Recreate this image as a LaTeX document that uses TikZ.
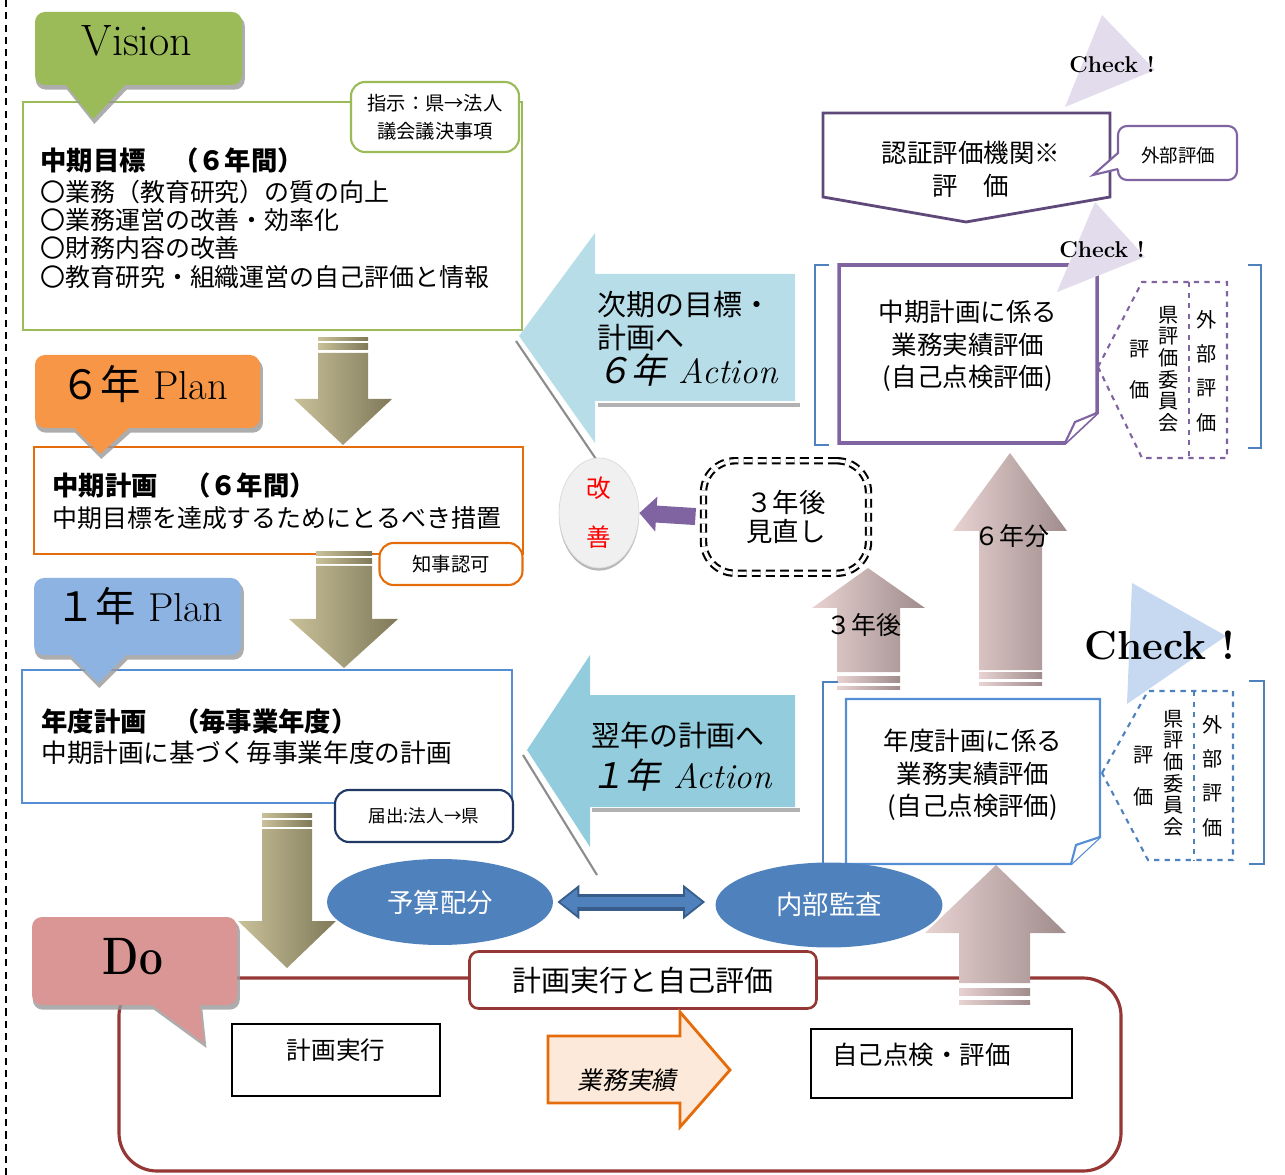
\documentclass[tikz,border=0pt]{standalone}
\usepackage{fontspec}
\newfontfamily\cjk{Noto Sans CJK JP}
\newfontfamily\cjksl[FakeSlant=0.2]{Noto Sans CJK JP}
\usetikzlibrary{arrows.meta, shadows, shapes.geometric}

\definecolor{visiongreen}{HTML}{9BBB59}
\definecolor{planorange}{HTML}{F79646}
\definecolor{lineorange}{HTML}{E46C0A}
\definecolor{planblue}{HTML}{8DB3E2}
\definecolor{lineblue}{HTML}{558ED5}
\definecolor{notenavy}{HTML}{1F3864}
\definecolor{actsky}{HTML}{B7DEE8}
\definecolor{actteal}{HTML}{93CDDD}
\definecolor{ovalblue}{HTML}{4F81BD}
\definecolor{ovaldark}{HTML}{385D8A}
\definecolor{dopink}{HTML}{D99694}
\definecolor{doframe}{HTML}{953735}
\definecolor{evalpurple}{HTML}{8064A2}
\definecolor{evaldark}{HTML}{5F497A}
\definecolor{checklav}{HTML}{E2DCEC}
\definecolor{checksky}{HTML}{C6D9F1}
\definecolor{olivel}{HTML}{C9C199}
\definecolor{olived}{HTML}{7F7959}
\definecolor{rosel}{HTML}{E8D2D2}
\definecolor{rosed}{HTML}{A08C8C}
\definecolor{peach}{HTML}{FDE9D9}

\tikzset{
  jp/.style={font=\cjk\fontsize{14.2}{18}\selectfont},
  jpbold/.style={font=\cjk\bfseries\fontsize{15}{18}\selectfont},
  jpbig/.style={font=\cjk\fontsize{16.5}{20}\selectfont},
  jpsmall/.style={font=\cjk\fontsize{11}{16}\selectfont},
  jpvert/.style={font=\cjk\fontsize{11.5}{12.3}\selectfont, align=center},
  jpspread/.style={font=\cjk\fontsize{11.5}{19.5}\selectfont, align=center},
  callshadow/.style={drop shadow={shadow xshift=1pt, shadow yshift=-2.5pt, shadow scale=1.01, fill=black!40, opacity=0.8}},
  notebox/.style={draw, rounded corners=8pt, line width=1.2pt, fill=white, jpsmall, align=center},
  olivearrow/.style={left color=olivel, right color=olived},
  rosearrow/.style={left color=rosel, right color=rosed},
  evalbox/.style={jp, align=center, font=\cjk\fontsize{14.5}{18.5}\selectfont}
}

\begin{document}
\begin{tikzpicture}[x=0.02cm, y=-0.02cm, every node/.style={inner sep=0pt}]
\useasboundingbox (0,0) rectangle (1285,1175);

\draw[dash pattern=on 4pt off 3pt, line width=0.8pt] (6,0) -- (6,1175);

% Vision / 6 year / 1 year boxes
\draw[visiongreen, line width=1.5pt, fill=white] (23,102) rectangle (522,330);
\node[jpbold, anchor=west] (goaltitle) at (40,160) {中期目標　（６年間）};
\node[jp, anchor=west] (goalA) at (40,192) {〇業務（教育研究）の質の向上};
\node[jp, anchor=west] (goalB) at (40,220) {〇業務運営の改善・効率化};
\node[jp, anchor=west] (goalC) at (40,248) {〇財務内容の改善};
\node[jp, anchor=west] (goalD) at (40,277) {〇教育研究・組織運営の自己評価と情報};
\node[notebox, draw=visiongreen, minimum width=3.36cm, minimum height=1.4cm] (instruct) at (435,117) {指示：県→法人\\議会議決事項};

\draw[lineorange, line width=1.3pt, fill=white] (34,447) rectangle (523,554);
\node[jpbold, anchor=west] (plantitle) at (52,485) {中期計画　（６年間）};
\node[jp, anchor=west] (plantext) at (52,518) {中期目標を達成するためにとるべき措置};
\node[notebox, draw=lineorange, minimum width=2.86cm, minimum height=0.84cm] (approve) at (451,564) {知事認可};

\draw[lineblue, line width=1.3pt, fill=white] (22,670) rectangle (512,803);
\node[jpbold, anchor=west] (yeartitle) at (41,721) {年度計画　（毎事業年度）};
\node[jp, anchor=west, font=\cjk\fontsize{14.6}{18}\selectfont] (yeartext) at (41,753) {中期計画に基づく毎事業年度の計画};
\node[notebox, draw=notenavy, minimum width=3.56cm, minimum height=1.04cm, font=\cjk\fontsize{10}{12}\selectfont] (notify) at (424,816) {届出:法人→県};

% callouts
\path[fill=visiongreen, callshadow] [rounded corners=0.2cm] (140,12) -- (242,12) -- (242,85) [sharp corners] -- (125,85) -- (93,119) -- (66,85) [rounded corners=0.2cm] -- (35,85) -- (35,12) -- cycle;
\node[font=\fontsize{25}{29}\selectfont] (vision) at (137,41) {Vision};

\path[fill=planorange, callshadow] [rounded corners=0.2cm] (150,355) -- (260,355) -- (260,428) [sharp corners] -- (129,428) -- (100,454) -- (74,428) [rounded corners=0.2cm] -- (35,428) -- (35,355) -- cycle;
\node[font=\fontsize{23}{27}\selectfont] (plansix) at (144,384) {{\cjk ６年} Plan};

\path[fill=planblue, callshadow] [rounded corners=0.2cm] (140,578) -- (241,578) -- (241,655) [sharp corners] -- (126,655) -- (98,683) -- (70,655) [rounded corners=0.2cm] -- (34,655) -- (34,578) -- cycle;
\node[font=\fontsize{23}{27}\selectfont] (planone) at (139,606) {{\cjk １年} Plan};

% olive down arrows
\foreach \a/\b in {338/341, 344/350} \shade[olivearrow] (318,\a) rectangle (368,\b);
\shade[olivearrow] (318,353) -- (368,353) -- (368,399) -- (392,399) -- (343,445) -- (294,399) -- (318,399) -- cycle;
\foreach \a/\b in {552/556, 559/564} \shade[olivearrow] (316,\a) rectangle (372,\b);
\shade[olivearrow] (316,566) -- (372,566) -- (372,619) -- (398,619) -- (344,668) -- (289,619) -- (316,619) -- cycle;
\foreach \a/\b in {813/817, 820/826} \shade[olivearrow] (262,\a) rectangle (312,\b);
\shade[olivearrow] (262,829) -- (312,829) -- (312,921) -- (336,921) -- (287,968) -- (238,921) -- (262,921) -- cycle;

% action arrows
\draw[black!45, line width=1.2pt] (516,341) -- (598,462);
\draw[black!30, line width=2.5pt] (598,405) -- (800,405);
\fill[actsky] (519,336) -- (595,233) -- (595,274) -- (795,274) -- (795,401) -- (595,401) -- (595,443) -- cycle;
\node[jpbig, anchor=west] (nextgoal) at (597,305) {次期の目標・};
\node[jpbig, anchor=west] (nextplan) at (597,338) {計画へ};
\node[anchor=west, font=\fontsize{20}{24}\selectfont\itshape] (sixact) at (596,370) {{\cjksl ６年} Action};

\draw[black!45, line width=1.2pt] (523,755) -- (597,875);
\draw[black!30, line width=2.5pt] (592,810) -- (800,810);
\fill[actteal] (527,750) -- (590,655) -- (590,695) -- (795,695) -- (795,807) -- (590,807) -- (590,847) -- cycle;
\node[jpbig] (nextyear) at (678,735) {翌年の計画へ};
\node[font=\fontsize{20}{24}\selectfont\itshape] (oneact) at (681,775) {{\cjksl １年} Action};

% review
\node[ellipse, draw=black!15, fill=black!6, minimum width=1.6cm, minimum height=2.2cm, drop shadow={shadow xshift=0pt, shadow yshift=-1.5pt, fill=black!40, opacity=0.7}, align=center, text=red, font=\cjk\fontsize{14}{28}\selectfont] (kaizen) at (599,513) {改\\善};
\node[draw, double, double distance=1.8pt, dash pattern=on 5pt off 3pt, line width=1.2pt, rounded corners=18pt, minimum width=3.3cm, minimum height=2.25cm, align=center, font=\cjk\fontsize{15}{16.5}\selectfont] (review) at (786,517) {３年後\\見直し};
\draw[evalpurple, line width=0.34cm, -{Triangle[length=0.34cm, width=0.68cm]}, shorten <=4pt] (review.west) -- (kaizen.east);

% certification
\draw[evaldark, line width=1.6pt, fill=white] (823,113) -- (1110,113) -- (1110,197) -- (966,222) -- (823,197) -- cycle;
\node[font=\cjk\fontsize{14.5}{18}\selectfont] (certbody) at (971,153) {認証評価機関※};
\node[font=\cjk\fontsize{14.5}{18}\selectfont] (certeval) at (971,186) {評　価};
\draw[evalpurple, line width=1.2pt, fill=white, rounded corners=0.18cm] (1118,126) rectangle (1237,180);
\fill[white] (1120,153) -- (1093,175) -- (1120,169) -- cycle;
\draw[evalpurple, line width=1.2pt] (1118,153) -- (1093,175) -- (1118,169);
\node[font=\cjk\fontsize{10.5}{12}\selectfont] (external) at (1178,155) {外部評価};
\fill[checklav] (1102,15) -- (1155,70) -- (1065,107) -- cycle;
\node[font=\bfseries\fontsize{13}{15}\selectfont] (checkup) at (1112,65) {Check !};

% mid-term evaluation
\draw[ovalblue, line width=0.8pt] (829,265) -- (815,265) -- (815,445) -- (829,445);
\draw[ovalblue, line width=0.8pt] (1248,265) -- (1261,265) -- (1261,448) -- (1248,448);
\draw[evalpurple, line width=2pt, fill=white] (839,265) -- (1097,265) -- (1097,413) -- (1065,443) -- (839,443) -- cycle;
\draw[evalpurple, line width=1.2pt, fill=white] (1097,413) -- (1075,422) -- (1065,443);
\node[evalbox] (midcheck) at (968,346) {中期計画に係る\\業務実績評価\\(自己点検評価)};
\fill[checklav] (1095,202) -- (1145,257) -- (1057,292) -- cycle;
\node[font=\bfseries\fontsize{13}{15}\selectfont] (checkmid) at (1102,250) {Check !};
\draw[evalpurple, dashed, line width=1.2pt] (1098,367) -- (1142,282) -- (1227,282) -- (1227,458) -- (1142,458) -- cycle;
\draw[evalpurple, dashed, line width=1.2pt] (1189,282) -- (1189,458);
\node[font=\cjk\fontsize{11.5}{14}\selectfont] (midevalA) at (1140,349) {評};
\node[font=\cjk\fontsize{11.5}{14}\selectfont] (midevalB) at (1140,390) {価};
\node[jpvert] (midcommittee) at (1169,369) {県\\評\\価\\委\\員\\会};
\node[jpspread] (midoutside) at (1207,371) {外\\部\\評\\価};

% up arrows
\foreach \a/\b in {676/682, 686/689} \shade[rosearrow] (837,\a) rectangle (900,\b);
\shade[rosearrow] (837,672) -- (837,608) -- (812,608) -- (868,568) -- (925,608) -- (900,608) -- (900,672) -- cycle;
\node[jp] (threeup) at (864,625) {３年後};
\foreach \a/\b in {672/678, 682/685} \shade[rosearrow] (979,\a) rectangle (1042,\b);
\shade[rosearrow] (979,670) -- (979,531) -- (953,531) -- (1010,453) -- (1067,531) -- (1042,531) -- (1042,670) -- cycle;
\node[jp] (sixup) at (1012,536) {６年分};

% yearly evaluation
\draw[ovalblue, line width=0.8pt] (838,682) -- (823,682) -- (823,868) -- (838,868);
\draw[ovalblue, line width=0.8pt] (1249,681) -- (1264,681) -- (1264,864) -- (1249,864);
\draw[lineblue, line width=1.4pt, fill=white] (846,699) -- (1100,699) -- (1100,837) -- (1071,864) -- (846,864) -- cycle;
\draw[lineblue, line width=1.2pt, fill=white] (1100,837) -- (1076,845) -- (1071,864);
\node[evalbox] (yearcheck) at (973,775) {年度計画に係る\\業務実績評価\\(自己点検評価)};
\fill[checksky] (1132,583) -- (1226,636) -- (1127,704) -- cycle;
\node[font=\bfseries\fontsize{23}{27}\selectfont] (checklow) at (1160,645) {Check !};
\draw[ovalblue, dashed, line width=1.2pt] (1102,773) -- (1148,691) -- (1233,691) -- (1233,860) -- (1148,860) -- cycle;
\draw[ovalblue, dashed, line width=1.2pt] (1194,691) -- (1194,860);
\node[font=\cjk\fontsize{11.5}{14}\selectfont] (yearevalA) at (1144,755) {評};
\node[font=\cjk\fontsize{11.5}{14}\selectfont] (yearevalB) at (1144,797) {価};
\node[jpvert] (yearcommittee) at (1174,773) {県\\評\\価\\委\\員\\会};
\node[jpspread] (yearoutside) at (1213,776) {外\\部\\評\\価};

% Do
\draw[doframe, line width=1.8pt, rounded corners=0.76cm] (119,978) rectangle (1121,1171);
\foreach \a/\b in {988/995, 1000/1004} \shade[rosearrow] (959,\a) rectangle (1030,\b);
\shade[rosearrow] (959,983) -- (959,933) -- (925,933) -- (996,865) -- (1066,933) -- (1030,933) -- (1030,983) -- cycle;

\node[ellipse, fill=ovalblue, minimum width=4.52cm, minimum height=1.72cm, text=white, font=\cjk\fontsize{15}{18}\selectfont] (budget) at (440,902) {予算配分};
\node[ellipse, fill=ovalblue, minimum width=4.54cm, minimum height=1.7cm, text=white, font=\cjk\fontsize{15}{18}\selectfont] (audit) at (829,905) {内部監査};
\draw[ovaldark, line width=0.34cm, {Triangle[length=0.44cm, width=0.66cm]}-{Triangle[length=0.44cm, width=0.66cm]}, shorten <=0.08cm, shorten >=0.2cm] (budget.east) -- (audit.west |- budget.east);
\draw[ovalblue, line width=0.2cm, {Triangle[length=0.34cm, width=0.5cm]}-{Triangle[length=0.34cm, width=0.5cm]}, shorten <=0.14cm, shorten >=0.26cm] (budget.east) -- (audit.west |- budget.east);

\path[fill=dopink, callshadow] [rounded corners=0.2cm] (135,917) -- (237,917) -- (237,1005) [sharp corners] -- (200,1005) -- (204,1043) -- (152,1005) [rounded corners=0.2cm] -- (32,1005) -- (32,917) -- cycle;
\node[font=\bfseries\fontsize{30}{34}\selectfont, xscale=0.8, transform shape] (do) at (133,957) {Do};

\node[draw=doframe, line width=1.5pt, fill=white, rounded corners=0.18cm, minimum width=6.94cm, minimum height=1.14cm, font=\cjk\fontsize{16.5}{20}\selectfont] (doing) at (643,980) {計画実行と自己評価};

\draw[line width=0.8pt] (232,1024) rectangle (440,1096);
\node[font=\cjk\fontsize{14}{16}\selectfont] (exec) at (336,1050) {計画実行};
\filldraw[draw=lineorange, fill=peach, line width=1.6pt] (548,1036) -- (680,1036) -- (680,1012) -- (730,1070) -- (680,1127) -- (680,1103) -- (548,1103) -- cycle;
\node[font=\cjksl\fontsize{14}{16}\selectfont] (results) at (627,1080) {業務実績};
\draw[line width=0.8pt] (811,1029) rectangle (1072,1098);
\node[anchor=west, font=\cjk\fontsize{14.5}{16}\selectfont] (selfcheck) at (832,1055) {自己点検・評価};
\end{tikzpicture}
\end{document}
